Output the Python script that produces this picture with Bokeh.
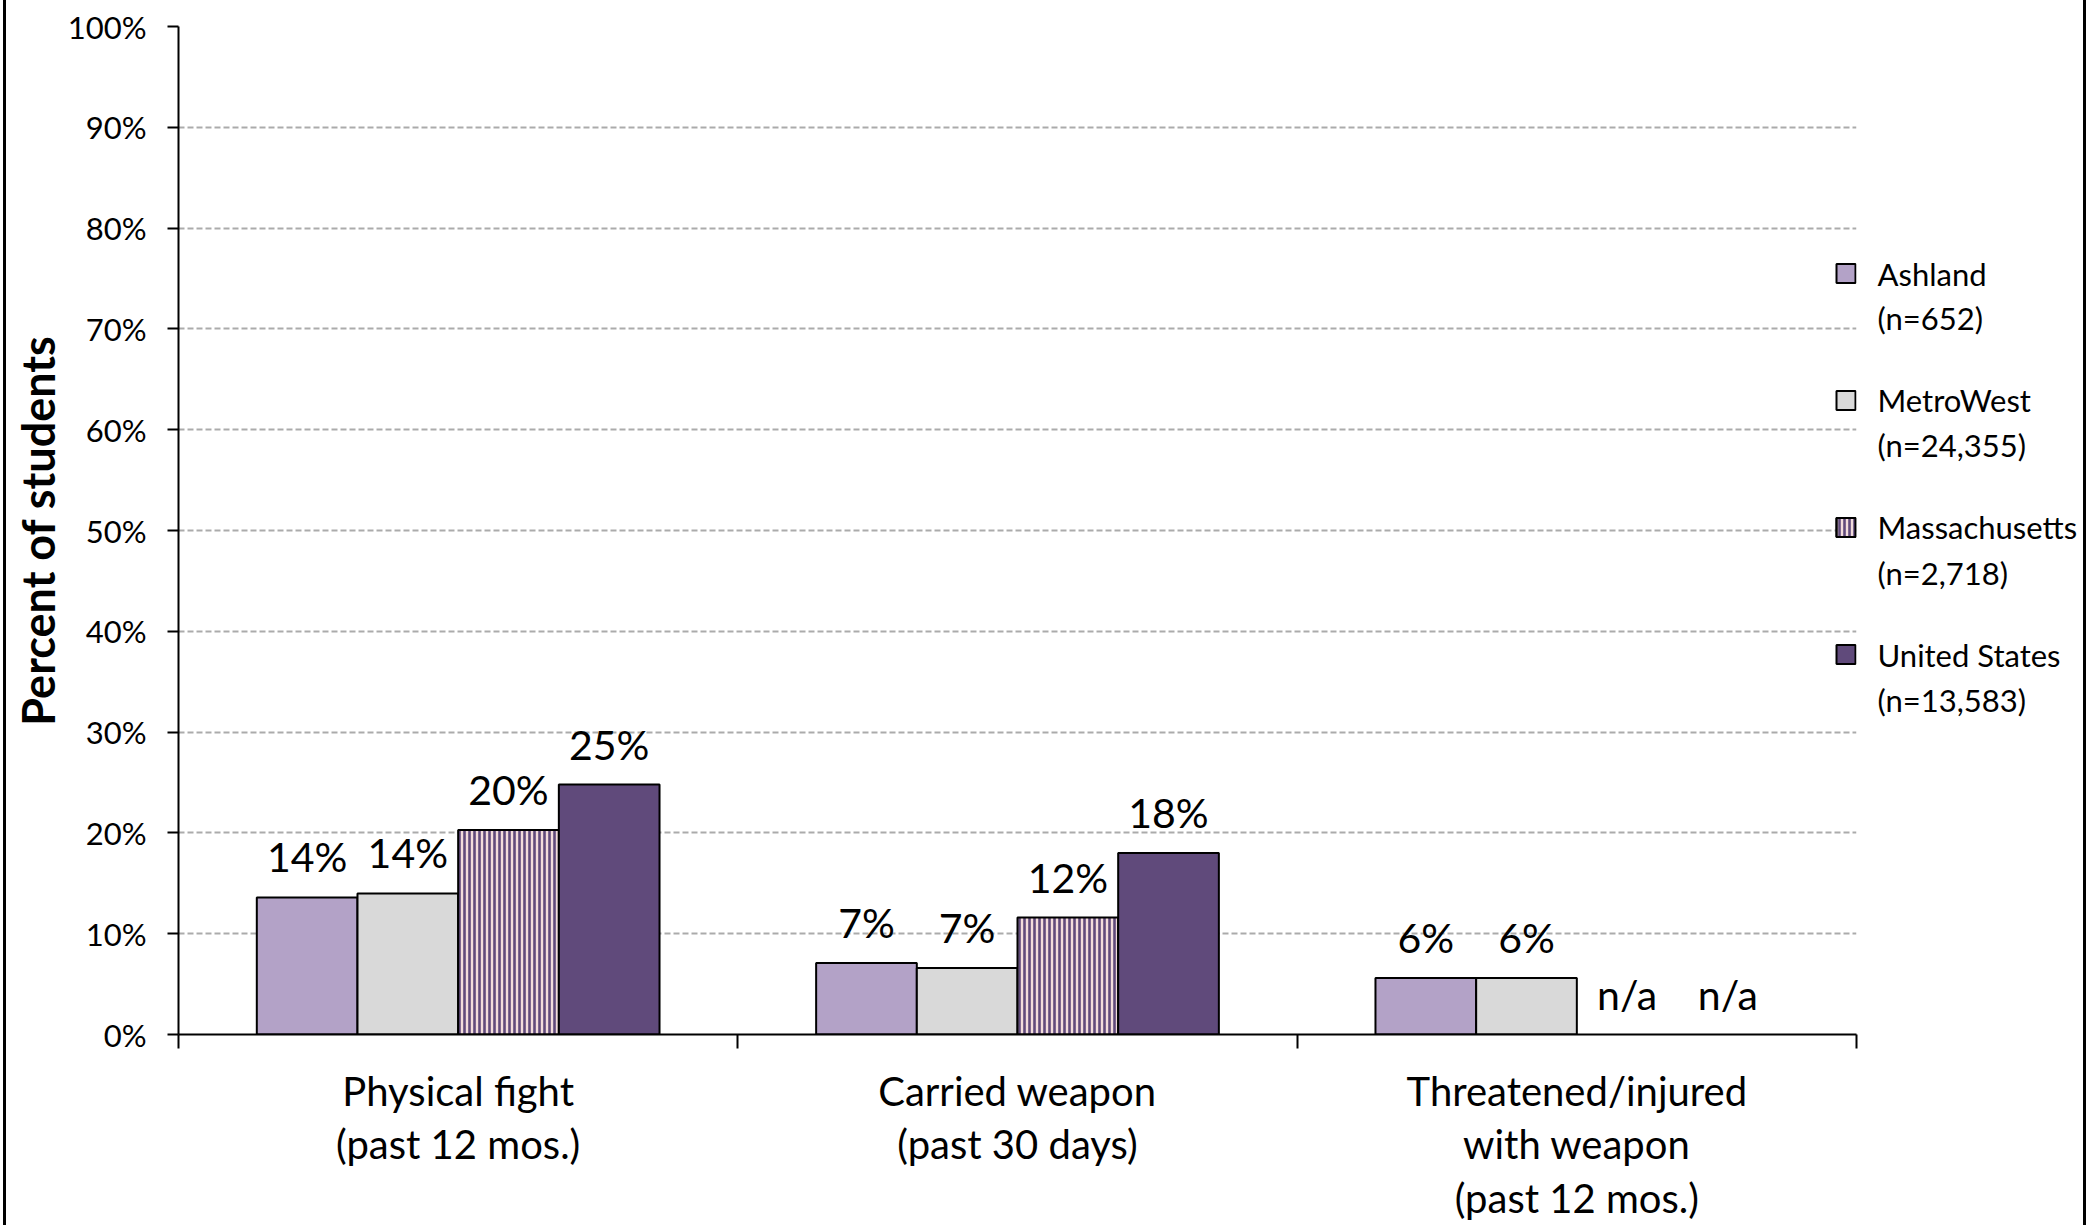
import numpy as np
from bokeh.plotting import figure
from bokeh.core.properties import value
from bokeh.models import (Range1d, FixedTicker, ColumnDataSource, LinearAxis,
                          LabelSet, PrintfTickFormatter)
from bokeh.embed import file_html
from bokeh.resources import INLINE

# ---------------- data ----------------
categories = ["Physical fight\n(past 12 mos.)",
              "Carried weapon\n(past 30 days)",
              "Threatened/injured\nwith weapon\n(past 12 mos.)"]
series_names = ["Ashland", "MetroWest", "Massachusetts", "United States"]
series_n = ["(n=652)", "(n=24,355)", "(n=2,718)", "(n=13,583)"]
ashland = [13.6, 7.1, 5.6]
metrowest = [14.0, 6.6, 5.6]
massachusetts = [20.3, 11.6, None]
united_states = [24.8, 18.0, None]
y_ticks = [0, 10, 20, 30, 40, 50, 60, 70, 80, 90, 100]

FONT = "Lato"
values = [ashland, metrowest, massachusetts, united_states]
fills = ["#B3A2C7", "#D9D9D9", "#F2DCDB", "#604A7B"]

FRAME_W, FRAME_H = 1678, 1008
p = figure(width=2083, height=1225,
           min_border_left=172, min_border_right=233, min_border_top=26, min_border_bottom=191,
           x_range=Range1d(0, 3), y_range=Range1d(0, 100),
           output_backend="svg", toolbar_location=None, tools="")
p.styles = {"margin-left": "3px", "border-left": "3px solid black",
            "border-right": "3px solid black"}
p.outline_line_color = None
p.background_fill_color = "white"
p.border_fill_color = "white"

# grid
p.xgrid.grid_line_color = None
p.ygrid.ticker = FixedTicker(ticks=y_ticks)
p.ygrid.grid_line_color = "#ABABAB"
p.ygrid.grid_line_width = 2
p.ygrid.grid_line_dash = "6 3"

# y axis
ya = p.yaxis[0]
ya.ticker = FixedTicker(ticks=y_ticks)
ya.formatter = PrintfTickFormatter(format="%d%%")
ya.axis_line_color = "black"
ya.axis_line_width = 2
ya.major_tick_line_color = "black"
ya.major_tick_line_width = 2
ya.major_tick_out = 11
ya.major_tick_in = 0
ya.minor_tick_line_color = None
ya.major_label_standoff = 21
ya.major_label_text_font = FONT
ya.major_label_text_font_size = "31px"
ya.major_label_text_color = "black"
ya.axis_label = "Percent of students"
ya.axis_label_text_font = FONT
ya.axis_label_text_font_size = "45px"
ya.axis_label_text_font_style = "bold"
ya.axis_label_text_color = "black"
ya.axis_label_standoff = 0

# x axis: category labels at centres, tick marks at boundaries
centres = [i + 0.5 for i in range(len(categories))]
xa = p.xaxis[0]
xa.ticker = FixedTicker(ticks=centres, minor_ticks=[0, 1, 2, 3])
xa.major_label_overrides = {c: lab for c, lab in zip(centres, categories)}
xa.axis_line_color = "black"
xa.axis_line_width = 2
xa.minor_tick_line_color = "black"
xa.minor_tick_line_width = 2
xa.minor_tick_out = 14
xa.minor_tick_in = 0
xa.major_tick_line_color = None
xa.major_tick_out = 0
xa.major_tick_in = 0
xa.major_label_standoff = 18
xa.major_label_text_font = FONT
xa.major_label_text_font_size = "40px"
xa.major_label_text_line_height = 1.12
xa.major_label_text_color = "black"

# bars
bar_w = 0.18
lab_x, lab_y, lab_t = [], [], []
for j, vals in enumerate(values):
    xs, tops = [], []
    for i, v in enumerate(vals):
        xc = i + 0.5 + (j - 1.5) * bar_w
        if v is None:
            lab_x.append(xc); lab_y.append(0); lab_t.append("n/a")
        else:
            xs.append(xc); tops.append(v)
            lab_x.append(xc); lab_y.append(v); lab_t.append(f"{v:.0f}%")
    src = ColumnDataSource(dict(x=xs, top=tops))
    kw = {}
    if j == 2:
        kw = dict(hatch_pattern="vertical_line", hatch_color="#604A7B",
                  hatch_scale=5, hatch_weight=2.6)
    p.vbar(x="x", top="top", bottom=0, width=bar_w, source=src,
           fill_color=fills[j], line_color="black", line_width=2, **kw)

lab_src = ColumnDataSource(dict(x=lab_x, y=lab_y, t=lab_t))
p.add_layout(LabelSet(x="x", y="y", text="t", source=lab_src,
                      text_align="center", text_baseline="alphabetic", y_offset=25,
                      text_font=value(FONT), text_font_size=value("41px"),
                      text_color=value("black")))

# ---------------- legend (right) ----------------
# layout in pixels from the top of the plot frame
LEG_TOP = 247          # centre of first entry's name line
LEG_PITCH = 127        # distance between entries
LEG_LINE = 45          # distance between name line and (n=...) line
px_per_unit = FRAME_H / 100.0
leg_ticks, leg_over = [], {}
sw_y = []
for k, (nm, nn) in enumerate(zip(series_names, series_n)):
    y_name = 100 - (LEG_TOP + k * LEG_PITCH) / px_per_unit
    y_n = 100 - (LEG_TOP + k * LEG_PITCH + LEG_LINE) / px_per_unit
    y_name, y_n = round(y_name, 3), round(y_n, 3)
    leg_ticks += [y_name, y_n]
    leg_over[y_name] = nm
    leg_over[y_n] = nn
    sw_y.append(y_name)

ra = LinearAxis(ticker=FixedTicker(ticks=leg_ticks), major_label_overrides=leg_over)
ra.axis_line_color = None
ra.major_tick_line_color = None
ra.minor_tick_line_color = None
ra.major_tick_out = 0
ra.major_tick_in = 0
ra.major_label_standoff = 21
ra.major_label_text_font = FONT
ra.major_label_text_font_size = "31px"
ra.major_label_text_color = "black"
p.add_layout(ra, "right")

# swatches, just inside the right edge of the frame
sw_x = 3 - 10.5 / (FRAME_W / 3)
sw_src = ColumnDataSource(dict(x=[sw_x] * 4, y=sw_y, c=fills))
p.rect(x="x", y="y", width=19, height=19, width_units="screen", height_units="screen",
       source=sw_src, fill_color="c", line_color="black", line_width=2)
p.rect(x=[sw_x], y=[sw_y[2]], width=19, height=19, width_units="screen",
       height_units="screen", fill_color=None, line_color="black", line_width=2,
       hatch_pattern="vertical_line", hatch_color="#604A7B", hatch_scale=5, hatch_weight=2.6)

open("out.html", "w").write(file_html(p, INLINE))
